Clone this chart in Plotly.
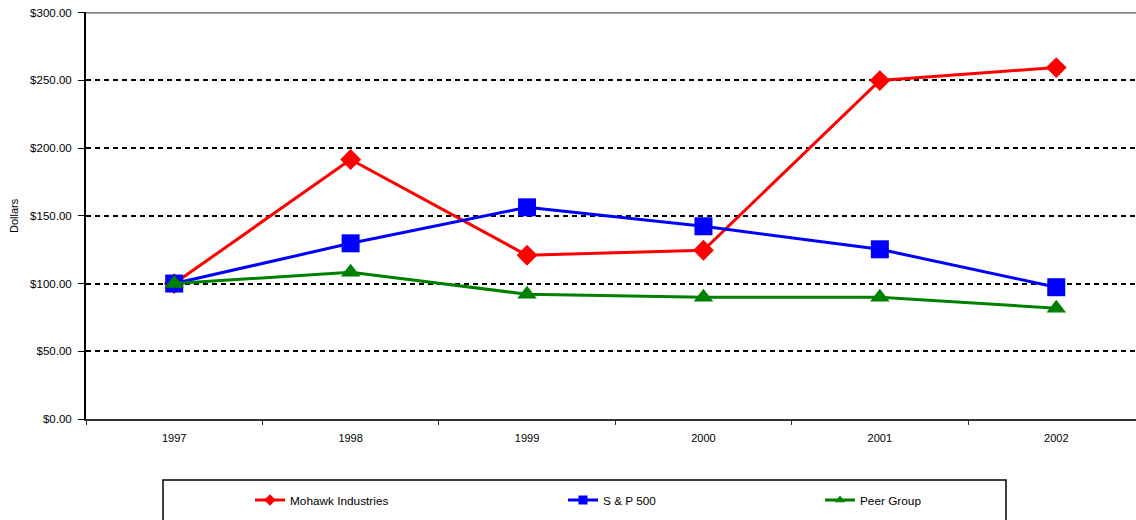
import plotly.graph_objects as go

years = ["1997", "1998", "1999", "2000", "2001", "2002"]
mohawk = [100.0, 191.6, 120.9, 124.6, 249.9, 259.5]
sp500 = [100.0, 129.7, 156.3, 142.3, 125.3, 97.3]
peer = [100.0, 108.4, 92.1, 89.9, 89.9, 81.8]
y_ticks = [0, 50, 100, 150, 200, 250, 300]
y_tick_text = ["$0.00", "$50.00", "$100.00", "$150.00", "$200.00", "$250.00", "$300.00"]

series = [
    ("Mohawk Industries", mohawk, "#ff0000", "diamond", 16, "legend"),
    ("S & P 500", sp500, "#0000ff", "square", 18, "legend2"),
    ("Peer Group", peer, "#008000", "triangle-up", 17, "legend3"),
]

FONT = "Liberation Sans, Arial, sans-serif"
FS_TICK = 11.5
FS_X = 11
FS_LEG = 11.8

fig = go.Figure()
for name, vals, color, sym, size, leg in series:
    fig.add_trace(go.Scatter(x=years, y=vals, name=name, mode="lines+markers",
                             line=dict(color=color, width=3),
                             marker=dict(symbol=sym, size=size, color=color),
                             showlegend=False))
    # legend entry with the small marker used in the reference legend
    fig.add_trace(go.Scatter(x=[None], y=[None], name=name, mode="lines+markers",
                             line=dict(color=color, width=3),
                             marker=dict(symbol=sym, size=9, color=color),
                             legend=leg, showlegend=True, hoverinfo="skip"))

W, H = 1136, 520
L, T = 86, 12
BOTTOM = 419
B = H - BOTTOM
R = 0
pw, ph = W - L - R, BOTTOM - T

def px_x(p):
    return (p - L) / pw

def px_y(p):
    return (BOTTOM - p) / ph

legend_common = dict(orientation="h", yanchor="middle", xanchor="left", bgcolor="rgba(0,0,0,0)",
                     borderwidth=0, font=dict(family=FONT, size=FS_LEG, color="black"),
                     itemwidth=30, itemsizing="trace")

fig.update_layout(
    width=W, height=H,
    margin=dict(l=L, r=R, t=T, b=B, autoexpand=False),
    paper_bgcolor="white", plot_bgcolor="white",
    showlegend=True,
    font=dict(family=FONT, size=FS_TICK, color="black"),
    legend=dict(x=px_x(250), y=px_y(500), **legend_common),
    legend2=dict(x=px_x(563), y=px_y(500), **legend_common),
    legend3=dict(x=px_x(820), y=px_y(500), **legend_common),
    xaxis=dict(type="category", range=[-0.5, 5.452], tickson="boundaries",
               ticks="outside", ticklen=4, tickcolor="#333", tickwidth=1,
               showline=True, linecolor="#333", linewidth=1.5, ticklabelstandoff=8,
               showgrid=False, tickfont=dict(family=FONT, size=FS_X, color="black")),
    yaxis=dict(range=[0, 300.5], tickvals=y_ticks, ticktext=y_tick_text,
               ticks="outside", ticklen=6, tickcolor="black", tickwidth=1,
               showline=True, linecolor="black", linewidth=2, ticklabelstandoff=4,
               ticklabeloverflow="allow",
               showgrid=True, gridcolor="black", gridwidth=2, griddash="5px,4px",
               zeroline=False, tickfont=dict(family=FONT, size=FS_TICK, color="black")),
    annotations=[dict(text="Dollars", xref="paper", yref="paper", x=px_x(14), y=px_y(216),
                      xanchor="center", yanchor="middle", textangle=-90, showarrow=False,
                      font=dict(family=FONT, size=FS_X, color="black"))],
    shapes=[
        dict(type="line", xref="paper", yref="y", x0=0, x1=1, y0=300, y1=300,
             line=dict(color="#888888", width=2), layer="above"),
        dict(type="rect", xref="paper", yref="paper", x0=px_x(163), x1=px_x(1006),
             y0=px_y(480), y1=px_y(535), line=dict(color="black", width=1.5),
             fillcolor="rgba(0,0,0,0)"),
    ],
)

# remove the browser's default body margin so the figure sits at the page origin
fig.write_html("out.html",
               config={"displayModeBar": False},
               post_script="document.body.style.margin='0';document.body.style.overflow='hidden';")
